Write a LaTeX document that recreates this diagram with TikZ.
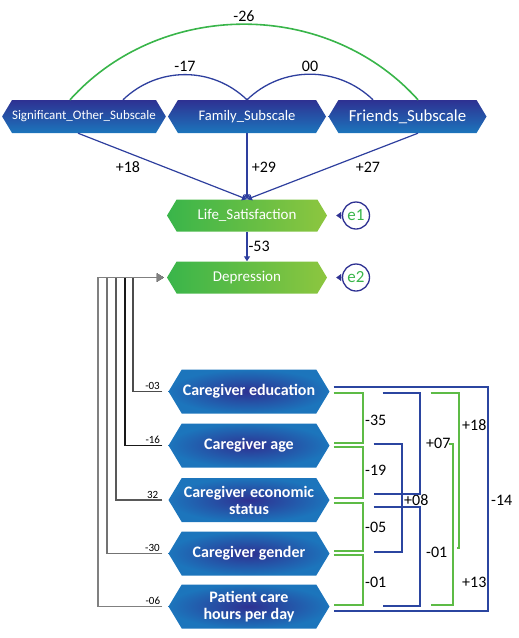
\documentclass[tikz,border=0pt]{standalone}
\usepackage{fontspec}
\setmainfont{Carlito}
\usetikzlibrary{shapes.symbols,calc,arrows.meta}
\definecolor{navy}{HTML}{2E3192}
\definecolor{midblue}{HTML}{1C75BC}
\definecolor{grn}{HTML}{39B54A}
\definecolor{lgrn}{HTML}{8DC63F}
\definecolor{linkblue}{HTML}{2E3F9E}
\definecolor{brkblue}{HTML}{2B45A0}
\definecolor{brkgreen}{HTML}{5DBB46}
\tikzstyle{hexa}=[signal, signal to=east and west, signal pointer angle=118, inner sep=0pt, text=white]
\tikzstyle{subnode}=[hexa, minimum width=158pt, minimum height=33pt, top color=navy, bottom color=midblue]
\tikzstyle{outnode}=[hexa, minimum width=160pt, minimum height=32pt, left color=grn, right color=lgrn, font=\fontsize{15}{17}\selectfont]
\tikzstyle{cgnode}=[hexa, minimum width=161pt, minimum height=44pt, inner color=navy, outer color=midblue, align=center, font=\fontsize{16}{17}\selectfont\bfseries]
\tikzstyle{err}=[circle, draw=navy, line width=1.3pt, minimum size=27pt, inner sep=0pt, text=grn, font=\fontsize{17}{19}\selectfont]
\tikzstyle{link}=[draw=linkblue, line width=1.2pt, -{Triangle[length=5pt,width=6pt]}]
\tikzstyle{errtip}=[draw=navy, -{Triangle[length=5pt,width=7pt]}]
\tikzstyle{coef}=[font=\fontsize{16}{18}\selectfont, inner sep=2pt]
\tikzstyle{small}=[font=\fontsize{11}{12}\selectfont, inner sep=1pt]
\tikzstyle{gline}=[line width=1.7pt, shorten <=6pt, shorten >=3pt, -{Triangle[length=7pt,width=8pt]}]
\tikzstyle{gbrk}=[draw=brkgreen, line width=1.6pt]
\tikzstyle{bbrk}=[draw=brkblue, line width=1.6pt]

\begin{document}
\begin{tikzpicture}[x=1pt,y=1pt]
\useasboundingbox (0,0) rectangle (519,-638);
\node[subnode, font=\fontsize{13}{15}\selectfont] (Sig) at (84,-116.5) {Significant\_Other\_Subscale};
\node[subnode, font=\fontsize{14.6}{16}\selectfont] (Fam) at (247,-116.5) {Family\_Subscale};
\node[subnode, font=\fontsize{16.8}{18}\selectfont] (Fri) at (407.5,-116.5) {Friends\_Subscale};
\node[outnode] (Life) at (247,-215.5) {Life\_Satisfaction};
\node[outnode] (Dep) at (247,-277.5) {Depression};
\node[err] (e1) at (356,-215.5) {e1};
\node[err] (e2) at (356,-277.5) {e2};
\node[cgnode] (Edu) at (249,-391.5) {Caregiver education};
\node[cgnode] (Age) at (249,-445.5) {Caregiver age};
\node[cgnode] (Econ) at (249,-500) {Caregiver economic\\status};
\node[cgnode] (Gen) at (249,-553.5) {Caregiver gender};
\node[cgnode] (Pat) at (249,-606.5) {Patient care\\hours per day};
\draw[draw=grn, line width=1.6pt] ($(Sig.north)+(-14,0)$) to[out=48,in=132] node[coef, above] (l26) {-26} ($(Fri.north)+(10.5,0)$);
\draw[draw=linkblue, line width=1.3pt] ($(Sig.north)+(39,0)$) to[out=44,in=136] node[coef, above] (l17) {-17} (Fam.north);
\draw[draw=linkblue, line width=1.3pt] (Fam.north) to[out=44,in=136] node[coef, above] (l00) {00} ($(Fri.north)+(-34.5,0)$);
\draw[link] ($(Sig.south)+(-6,0)$) -- (Life.north);
\draw[link] (Fam.south) -- (Life.north);
\draw[link] ($(Fri.south)+(10.5,0)$) -- (Life.north);
\node[coef] (l18) at (128,-167) {+18};
\node[coef] (l29) at (264,-167) {+29};
\node[coef] (l27) at (368,-167) {+27};
\draw[link] (Life.south) -- node[coef, right, inner sep=1pt] (l53) {-53} (Dep.north);
\draw[errtip, shorten >=9pt] (e1) -- (Life);
\draw[errtip, shorten >=9pt] (e2) -- (Dep);
\draw[gline, draw=black!70] (Edu.west) -- ++(-35,0) node[pos=0.45, above, small] (l03) {-03} |- (Dep.west);
\draw[gline, draw=black!90] (Age.west) -- ++(-43,0) node[pos=0.36, above, small] (l16) {-16} |- (Dep.west);
\draw[gline, draw=black!65] (Econ.west) -- ++(-52,0) node[pos=0.3, above, small] (l32) {32} |- (Dep.west);
\draw[gline, draw=black!55] (Gen.west) -- ++(-61,0) node[pos=0.26, above, small] (l30) {-30} |- (Dep.west);
\draw[gline, draw=black!50] (Pat.west) -- ++(-70,0) node[pos=0.22, above, small] (l06) {-06} |- (Dep.west);
\draw[bbrk] ($(Edu.east)+(4,4.5)$) -| (488,-500) |- ($(Pat.east)+(4,-4.5)$);
\node[coef, right] (l14) at (489,-500) {-14};
\draw[gbrk] ($(Edu.east)+(4,-1.5)$) -| (363,-420) |- ($(Age.east)+(4,2.5)$);
\draw[gbrk] ($(Age.east)+(4,-1.5)$) -| (363,-470) |- ($(Econ.east)+(4,2)$);
\draw[gbrk] ($(Econ.east)+(4,-3)$) -| (363,-527) |- ($(Gen.east)+(4,2.5)$);
\draw[gbrk] ($(Gen.east)+(4,-1.5)$) -| (363,-582) |- ($(Pat.east)+(4,1.5)$);
\node[coef, right] (l35) at (363,-420) {-35};
\node[coef, right] (l19) at (363,-470) {-19};
\node[coef, right] (l05) at (363,-527) {-05};
\node[coef, right] (l01a) at (363,-582) {-01};
\draw[bbrk] ($(Age.east)+(44,1.5)$) -| (402,-500) |- ($(Gen.east)+(44,1.5)$);
\node[coef, right, inner sep=1pt] (l08) at (403,-500) {+08};
\draw[bbrk] ($(Edu.east)+(53,-1.5)$) -| (420,-450) |- ($(Econ.east)+(44,6)$);
\draw[bbrk] ($(Econ.east)+(44,-7)$) -| (420,-550) |- ($(Pat.east)+(53,0.5)$);
\node[coef, right] (l07) at (424,-443) {+07};
\node[coef, right] (l01b) at (424,-552) {-01};
\draw[gbrk] ($(Edu.east)+(101,-1.5)$) -| (459,-470) |- ($(Gen.east)+(127,5.5)$);
\draw[gbrk] ($(Age.east)+(119,1.5)$) -| (453,-520) |- ($(Pat.east)+(101,1.5)$);
\node[coef, right] (l18b) at (460,-425) {+18};
\node[coef, right] (l13) at (460,-582) {+13};
\end{tikzpicture}
\end{document}
